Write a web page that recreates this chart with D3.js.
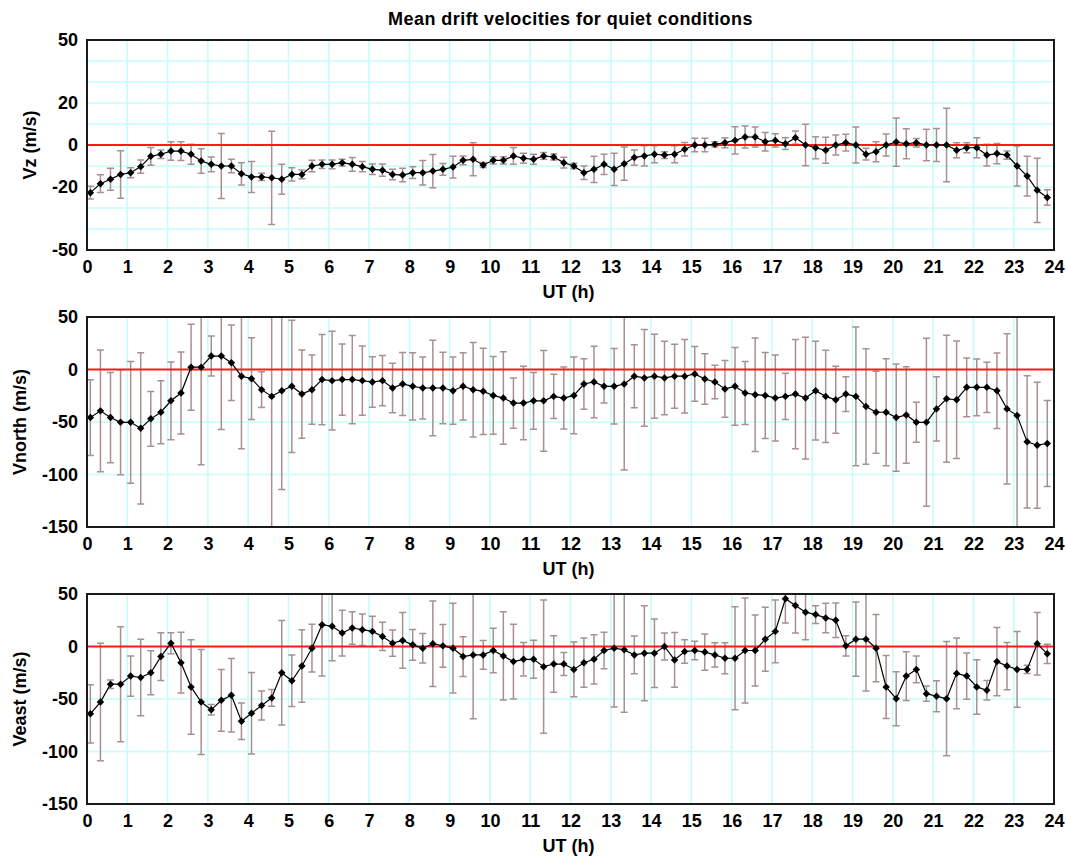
<!DOCTYPE html>
<html>
<meta charset="utf-8">
<style>
  body { margin: 0; background: #fff; }
  text { font-family: Arial, "Liberation Sans", sans-serif; font-weight: bold; fill: #000; }
</style>
<body>
<script src="https://cdn.jsdelivr.net/npm/d3@7"></script>
<script>
// 15 min bins, first centre at 0:05 UT
const utHours = d3.range(96).map(i => 5 / 60 + i * 0.25);
const hourTicks = d3.range(0, 25);

const vzMean = [-22.7,-18.4,-16.3,-14,-13.2,-10.3,-5.4,-4.4,-2.9,-2.9,
  -4.4,-7.6,-9.2,-10,-10,-13.7,-15.2,-15.2,-15.6,-16.3,
  -14,-14,-10,-9.2,-9.2,-8.4,-9.2,-10.3,-11.6,-12,
  -14,-14.3,-13.2,-13.2,-12.4,-11.6,-10.5,-7.3,-6.8,-9.5,
  -7.3,-7.3,-5.2,-6.3,-6.8,-5.2,-5.7,-8.4,-10,-13.2,
  -11.6,-9.2,-11.6,-8.9,-6,-5.2,-4.4,-4.8,-4.4,-2,
  0,0,0.3,1.1,2.2,3.8,3.8,1.6,2.2,0.6,
  3.5,0,-1.3,-2.5,0,1.1,0,-4.4,-3.2,0,
  1.4,0.6,1.1,0,0,0,-2.5,-1.3,-1.3,-4.8,
  -4.1,-4.8,-10,-14.8,-21.6,-25];
const vzErr = [3,4.2,5.2,11.3,2.4,3.2,4.2,2,4.4,4.5,
  4.8,5.8,3.5,15.5,3.2,5.3,7.4,1.7,22.2,7.1,
  3.2,2.1,2.7,2,2.1,1.6,3.3,2.4,2.5,2.9,
  2.5,3.2,2.8,5.8,7.9,2.8,5.2,2.1,7.9,1.2,
  1.7,1.7,4,2.4,2.4,1.6,1.4,2.6,1.3,3.2,
  6.3,4.8,7.7,7.9,3.6,4.8,4,1.6,4,3.2,
  3.2,3.2,1.2,2.4,6.5,5.2,4.8,4.4,3.2,2.8,
  3.2,9.9,5.2,6.2,4.8,4,8.6,2.8,4.8,5.2,
  11.5,7.1,2,7.5,7.9,17.5,3.6,2.4,4.8,5.2,
  4.8,2,9.5,9.5,15.3,3.7];

const vnorthMean = [-45.8,-39.4,-45.8,-50.3,-50.3,-56,-47,-40.7,-29.8,-22.4,
  2.2,2.2,12.8,12.8,6.4,-6.4,-8.7,-19.2,-25.6,-20.2,
  -16,-23.4,-19.2,-9.6,-10.6,-9.6,-9.6,-10.6,-11.9,-10.6,
  -17.6,-13.8,-16,-17.6,-17.6,-17.6,-20.2,-16,-19.2,-20.8,
  -24.7,-27.2,-32,-32,-29.8,-29.8,-25.6,-27.2,-24.7,-13.8,
  -11.9,-16,-16,-13.8,-6.4,-8,-6.4,-8,-6.4,-6.4,
  -4.2,-9,-11.9,-18.5,-16,-22.4,-24,-24.7,-27.2,-25.6,
  -23.4,-27.2,-20.2,-25.6,-28.8,-23.4,-25.6,-35.3,-40.7,-40.7,
  -45.8,-43.3,-50.3,-50.3,-37.5,-27.9,-28.8,-17,-17,-17,
  -20.2,-37.5,-43.9,-68.9,-72.1,-70.5];
const vnorthErr = [36,58,43,50,58,72,26,30,37,39,
  41,93,19,70,36,69,39,17,130,94,
  63,42,33,43,47,34,42,33,24,24,
  23.5,30,32,29.5,45.5,34,32,32,45,41,
  37,44,24,35,27,48,21,29.5,36.5,24,
  34,16,36,82,30,46,40,35,30.5,35,
  26,24,16,27,37,30,54,41,41,22,
  52,58,47,44,32,16.5,66,55,39,51,
  51,46,19,80,30.5,60.5,56,28,27,24,
  36,71.5,130,63,60,41];

const veastMean = [-64.1,-52.9,-35.9,-35.9,-28.2,-29.5,-25,-9.6,3.2,-15.4,
  -38.5,-52.9,-60.3,-51.3,-46.5,-71.2,-63.5,-56.1,-49,-25,
  -32.7,-18.6,-1.6,20.8,19.2,12.8,17.6,16,14.4,9.6,
  3.2,5.8,1.6,-1.6,2.6,0.6,-1.6,-9.6,-8,-8,
  -3.8,-9,-14.4,-12.2,-12.2,-19.2,-16.7,-16.7,-21.8,-15.4,
  -12.2,-3.8,-1.6,-3.2,-8,-6.4,-6.4,0,-12.8,-4.8,
  -3.8,-5.3,-8,-11.2,-11.2,-3.8,-3.8,7,14.4,45.5,
  39.1,32.7,30.4,27.2,25,0.6,7,7,-1.6,-38.5,
  -49.7,-28.2,-21.8,-44.9,-47.4,-49.7,-25.6,-28.2,-38.5,-41.7,
  -14.4,-18.6,-21.8,-21.8,2.6,-7];
const veastErr = [27.7,56,4,54.8,19.2,36.5,21,22.7,10,29,
  45,50,5,29.5,35,17.3,38.8,13.8,8,49.7,
  24.5,34.5,22.7,49,32.7,21.8,15.5,15,14.4,13.4,
  12.5,26.6,14.7,14.1,40.7,20.3,42.8,18.9,60.9,13.6,
  21.1,42,35.5,16,18.1,63.4,26.9,10.9,26.1,23.5,
  23.5,17.3,56,59.3,18,45.2,32.7,12.8,26.1,11.2,
  8.8,17.2,11.5,14.7,49,50,33.7,30.5,29.8,23,
  26.3,26.3,8.5,14.1,16.5,9.7,35.3,49.3,32,30,
  25.7,23.3,12.8,7.2,14.8,54.4,33.7,22.1,26,9.3,
  32.5,22.5,36,4,29.8,9.2];

const vzTicks = [50, 20, 0, -20, -50];
const vzGrid = d3.range(-40, 50, 10);
const wideTicks = [50, 0, -50, -100, -150];
const wideGrid = [0, -50, -100];

const panels = [
  { label: "Vz (m/s)", mean: vzMean, err: vzErr, domain: [-50, 50], ticks: vzTicks, grid: vzGrid, top: 40, titleX: 36 },
  { label: "Vnorth (m/s)", mean: vnorthMean, err: vnorthErr, domain: [-150, 50], ticks: wideTicks, grid: wideGrid, top: 317, titleX: 26 },
  { label: "Veast (m/s)", mean: veastMean, err: veastErr, domain: [-150, 50], ticks: wideTicks, grid: wideGrid, top: 594, titleX: 26 }
];

const W = 1066, H = 859;
const left = 87, pw = 967, ph = 210;

const svg = d3.select("body").append("svg")
  .attr("width", W).attr("height", H);

svg.append("text")
  .attr("x", left + pw / 2).attr("y", 25)
  .attr("text-anchor", "middle")
  .style("font-size", "18px")
  .style("letter-spacing", "0.45px")
  .text("Mean drift velocities for quiet conditions");

const x = d3.scaleLinear().domain([0, 24]).range([0, pw]);

panels.forEach((p, k) => {
  const y = d3.scaleLinear().domain(p.domain).range([ph, 0]);
  const g = svg.append("g").attr("transform", `translate(${left},${p.top})`);

  g.append("clipPath").attr("id", "clip" + k)
    .append("rect").attr("width", pw).attr("height", ph);

  // grid
  g.append("g").selectAll("line")
    .data(hourTicks.slice(1, -1))
    .join("line")
      .attr("x1", d => x(d)).attr("x2", d => x(d))
      .attr("y1", 0).attr("y2", ph)
      .attr("stroke", "#c6fcfc").attr("stroke-width", 1.6);
  g.append("g").selectAll("line")
    .data(p.grid)
    .join("line")
      .attr("x1", 0).attr("x2", pw)
      .attr("y1", d => y(d)).attr("y2", d => y(d))
      .attr("stroke", "#c6fcfc").attr("stroke-width", 1.6);

  const data = utHours.map((t, i) => ({ t, m: p.mean[i], e: p.err[i] }));

  // error bars
  const eb = g.append("g").attr("clip-path", `url(#clip${k})`)
    .attr("stroke", "#a89090").attr("stroke-width", 1.5).attr("fill", "none");
  eb.selectAll("path")
    .data(data)
    .join("path")
      .attr("d", d => {
        const cx = x(d.t), y1 = y(d.m + d.e), y2 = y(d.m - d.e), c = 3.5;
        return `M${cx},${y1}V${y2}M${cx - c},${y1}H${cx + c}M${cx - c},${y2}H${cx + c}`;
      });

  // zero line
  g.append("line")
    .attr("x1", 0).attr("x2", pw)
    .attr("y1", y(0)).attr("y2", y(0))
    .attr("stroke", "#ff1a1a").attr("stroke-width", 2);

  const line = d3.line().x(d => x(d.t)).y(d => y(d.m));
  g.append("path")
    .datum(data)
    .attr("d", line)
    .attr("fill", "none").attr("stroke", "#000").attr("stroke-width", 1.2);

  g.append("g").selectAll("path")
    .data(data)
    .join("path")
      .attr("d", d3.symbol(d3.symbolSquare, 28))
      .attr("transform", d => `translate(${x(d.t)},${y(d.m)}) rotate(45)`)
      .attr("fill", "#000");

  // frame
  g.append("rect")
    .attr("width", pw).attr("height", ph)
    .attr("fill", "none").attr("stroke", "#1a1a1a").attr("stroke-width", 2);

  const xAxis = g.append("g")
    .attr("transform", `translate(0,${ph})`)
    .call(d3.axisBottom(x).tickValues(hourTicks).tickSize(0).tickPadding(10).tickFormat(d => String(d)));
  xAxis.select(".domain").remove();
  xAxis.selectAll("text").style("font-size", "18px").style("font-family", null);

  const yAxis = g.append("g")
    .call(d3.axisLeft(y).tickValues(p.ticks).tickSize(0).tickPadding(9).tickFormat(d => String(d)));
  yAxis.select(".domain").remove();
  yAxis.selectAll("text").style("font-size", "18px").style("font-family", null);

  svg.append("text")
    .attr("transform", `translate(${p.titleX},${p.top + ph / 2}) rotate(-90)`)
    .attr("text-anchor", "middle")
    .style("font-size", "18px")
    .text(p.label);

  svg.append("text")
    .attr("x", left + pw / 2 - 2).attr("y", p.top + ph + 48)
    .attr("text-anchor", "middle")
    .style("font-size", "18px")
    .text("UT (h)");
});
</script>
</body>
</html>
